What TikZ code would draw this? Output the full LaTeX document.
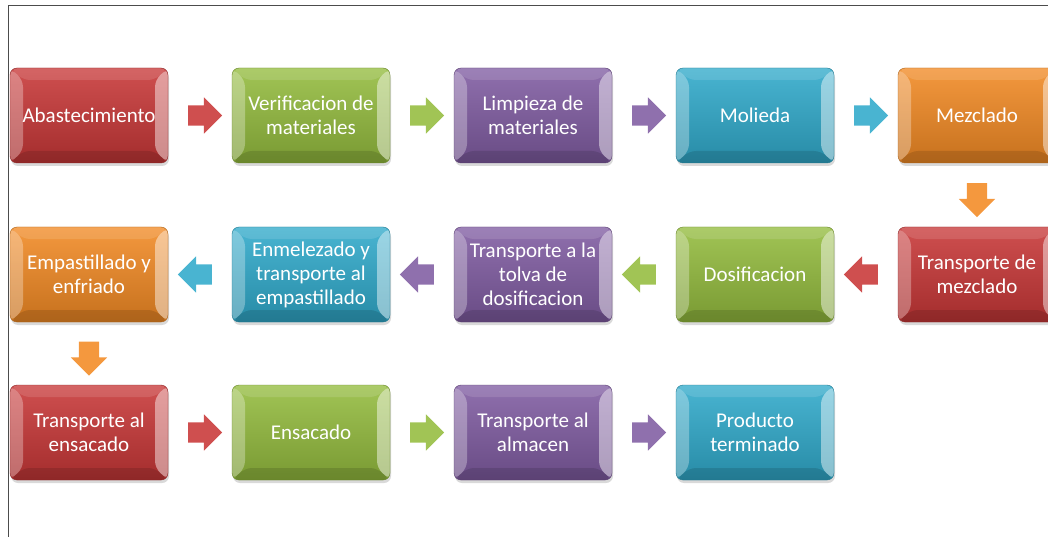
\documentclass[tikz,border=0pt]{standalone}
\usepackage{fontspec}
\setmainfont{Carlito}
\usetikzlibrary{shapes.arrows,shadows}

\definecolor{bred}{RGB}{200,55,55}
\definecolor{bgreen}{RGB}{148,188,62}
\definecolor{bpurple}{RGB}{128,92,162}
\definecolor{bteal}{RGB}{48,170,203}
\definecolor{borange}{RGB}{242,138,36}

\begin{document}
\begin{tikzpicture}[x=1pt,y=-1pt,
  box/.style={rectangle,rounded corners=7pt,minimum width=158pt,minimum height=95pt,
    inner sep=2pt,align=center,text=white,font=\fontsize{21}{24}\selectfont,
    top color=#1!88!white,bottom color=#1!82!black,draw=#1!70!black,line width=0.4pt,
    drop shadow={opacity=0.3,shadow xshift=1pt,shadow yshift=-3pt},
    path picture={
      % bevel faces
      \fill[white,opacity=0.3] (path picture bounding box.north west)
        -- ([xshift=13pt,yshift=-12pt]path picture bounding box.north west)
        -- ([xshift=13pt,yshift=12pt]path picture bounding box.south west)
        -- (path picture bounding box.south west) -- cycle;
      \fill[white,opacity=0.45] (path picture bounding box.north east)
        -- ([xshift=-13pt,yshift=-12pt]path picture bounding box.north east)
        -- ([xshift=-13pt,yshift=12pt]path picture bounding box.south east)
        -- (path picture bounding box.south east) -- cycle;
      \fill[white,opacity=0.12] (path picture bounding box.north west)
        -- ([xshift=13pt,yshift=-12pt]path picture bounding box.north west)
        -- ([xshift=-13pt,yshift=-12pt]path picture bounding box.north east)
        -- (path picture bounding box.north east) -- cycle;
      \fill[black,opacity=0.12] (path picture bounding box.south west)
        -- ([xshift=13pt,yshift=12pt]path picture bounding box.south west)
        -- ([xshift=-13pt,yshift=12pt]path picture bounding box.south east)
        -- (path picture bounding box.south east) -- cycle;
    }},
  flow/.style={single arrow,draw=none,fill=#1!88!white,inner xsep=0pt,inner ysep=10pt,
    minimum height=34pt,single arrow head extend=8pt,sloped,allow upside down}]

  \useasboundingbox (0,0) rectangle (1048,537);
  \clip (0,0) rectangle (1048,537);
  \draw[gray!60!black,line width=0.8pt] (8,537) -- (8,5.5) -- (1048,5.5);

  % first row
  \node[box=bred] (abast) at (89,115.5) {Abastecimiento};
  \node[box=bgreen] (verif) at (311,115.5) {Verificacion de\\materiales};
  \node[box=bpurple] (limp) at (533,115.5) {Limpieza de\\materiales};
  \node[box=bteal] (molie) at (755,115.5) {Molieda};
  \node[box=borange] (mezcl) at (977,115.5) {Mezclado};

  % second row
  \node[box=bred] (tmezc) at (977,274.5) {Transporte de\\mezclado};
  \node[box=bgreen] (dosif) at (755,274.5) {Dosificacion};
  \node[box=bpurple] (ttolva) at (533,274.5) {Transporte a la\\tolva de\\dosificacion};
  \node[box=bteal] (enmel) at (311,274.5) {Enmelezado y\\transporte al\\empastillado};
  \node[box=borange] (empas) at (89,274.5) {Empastillado y\\enfriado};

  % third row
  \node[box=bred] (tensac) at (89,432.5) {Transporte al\\ensacado};
  \node[box=bgreen] (ensac) at (311,432.5) {Ensacado};
  \node[box=bpurple] (talm) at (533,432.5) {Transporte al\\almacen};
  \node[box=bteal] (prod) at (755,432.5) {Producto\\terminado};

  % block arrows
  \path (abast) -- node[flow=bred] {} (verif);
  \path (verif) -- node[flow=bgreen] {} (limp);
  \path (limp) -- node[flow=bpurple] {} (molie);
  \path (molie) -- node[flow=bteal] {} (mezcl);
  \path (mezcl) -- node[flow=borange] {} (tmezc);
  \path (tmezc) -- node[flow=bred] {} (dosif);
  \path (dosif) -- node[flow=bgreen] {} (ttolva);
  \path (ttolva) -- node[flow=bpurple] {} (enmel);
  \path (enmel) -- node[flow=bteal] {} (empas);
  \path (empas) -- node[flow=borange] {} (tensac);
  \path (tensac) -- node[flow=bred] {} (ensac);
  \path (ensac) -- node[flow=bgreen] {} (talm);
  \path (talm) -- node[flow=bpurple] {} (prod);
\end{tikzpicture}
\end{document}
